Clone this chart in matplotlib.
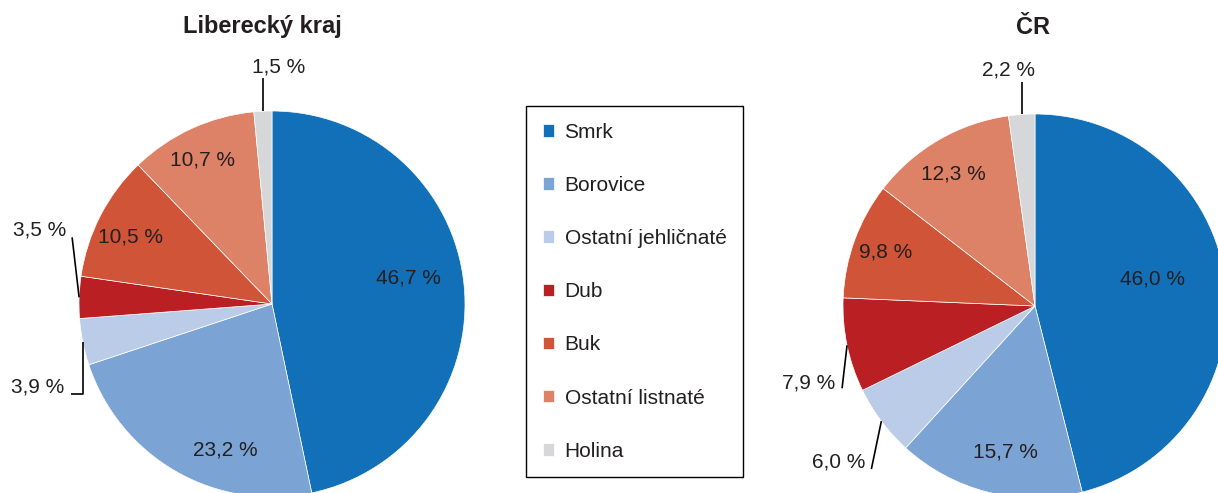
import matplotlib.pyplot as plt
import numpy as np

plt.rcParams['font.family'] = ['Liberation Sans', 'DejaVu Sans']

# data
species = ['Smrk', 'Borovice', 'Ostatní jehličnaté', 'Dub', 'Buk',
           'Ostatní listnaté', 'Holina']
liberecky = [46.7, 23.2, 3.9, 3.5, 10.5, 10.7, 1.5]
cr = [46.0, 15.7, 6.0, 7.9, 9.8, 12.3, 2.2]
colors = ['#1170B8', '#7BA4D5', '#BBCCE8', '#BA1F24', '#CF5438',
          '#DD8267', '#D6D7D9']

W, H = 1218, 493
TXT = '#231F20'

fig = plt.figure(figsize=(W / 100, H / 100), dpi=100)
ax = fig.add_axes([0, 0, 1, 1])


def fmt(v):
    return f'{v:.1f} %'.replace('.', ',')


def draw_pie(values, center, radius, title, title_dx, inside, outside):
    wedges, _ = ax.pie(values, colors=colors, startangle=90,
                       counterclock=False, center=center, radius=radius,
                       wedgeprops=dict(edgecolor='white', linewidth=0.5))
    cx, cy = center
    for i, w in enumerate(wedges):
        mid = (w.theta1 + w.theta2) / 2
        if i in inside:
            rf, dang = inside[i]
            a = np.deg2rad(mid + dang)
            ax.text(cx + rf * radius * np.cos(a), cy + rf * radius * np.sin(a),
                    fmt(values[i]), ha='center', va='center', fontsize=15,
                    color=TXT)
        else:
            pts, (tx, ty) = outside[i]
            a = np.deg2rad(mid)
            ex, ey = cx + radius * np.cos(a), cy + radius * np.sin(a)
            xs = [ex] + [ex + p[0] for p in pts]
            ys = [ey] + [ey + p[1] for p in pts]
            ax.plot(xs, ys, color='black', lw=1.2, solid_capstyle='butt')
            ax.text(ex + tx, ey + ty, fmt(values[i]), ha='center',
                    va='center', fontsize=15, color=TXT)
    ax.text(cx + title_dx, H - 27, title, ha='center', va='center',
            fontsize=17, fontweight='bold', color=TXT)
    return wedges


# label placement: inside -> (radius fraction, angle shift), outside -> leader
wedges = draw_pie(
    liberecky, (272, H - 304), 193, 'Liberecký kraj', -10,
    inside={0: (0.72, 4.9), 1: (0.795, 12.1), 4: (0.81, 1.8), 5: (0.83, 1.2)},
    outside={
        2: ([(0, -52), (-12, -52)], (-45, -45)),
        3: ([(-7, 60)], (-39, 67)),
        6: ([(0, 33)], (16, 44)),
    })

draw_pie(
    cr, (1035, H - 306), 192, 'ČR', -2,
    inside={0: (0.63, 5.8), 1: (0.776, 2.5), 4: (0.826, 0.2), 5: (0.81, 1.6)},
    outside={
        2: ([(-10, -48)], (-43, -41)),
        3: ([(-5, -43)], (-38, -38)),
        6: ([(0, 32)], (-13, 44)),
    })

leg = fig.legend(wedges, species, loc='upper left',
                 bbox_to_anchor=(526 / W, 1 - 106 / H), borderaxespad=0,
                 fontsize=15, frameon=True, fancybox=False, framealpha=1,
                 edgecolor='black', handlelength=0.55, handleheight=0.55,
                 handletextpad=0.5, labelspacing=1.64, borderpad=0.8)
leg.get_frame().set_linewidth(1.0)
for t in leg.get_texts():
    t.set_color(TXT)

ax.set_xlim(0, W)
ax.set_ylim(0, H)
ax.set_aspect('equal')
ax.axis('off')

fig.savefig('out.png', dpi=100, facecolor='white')
